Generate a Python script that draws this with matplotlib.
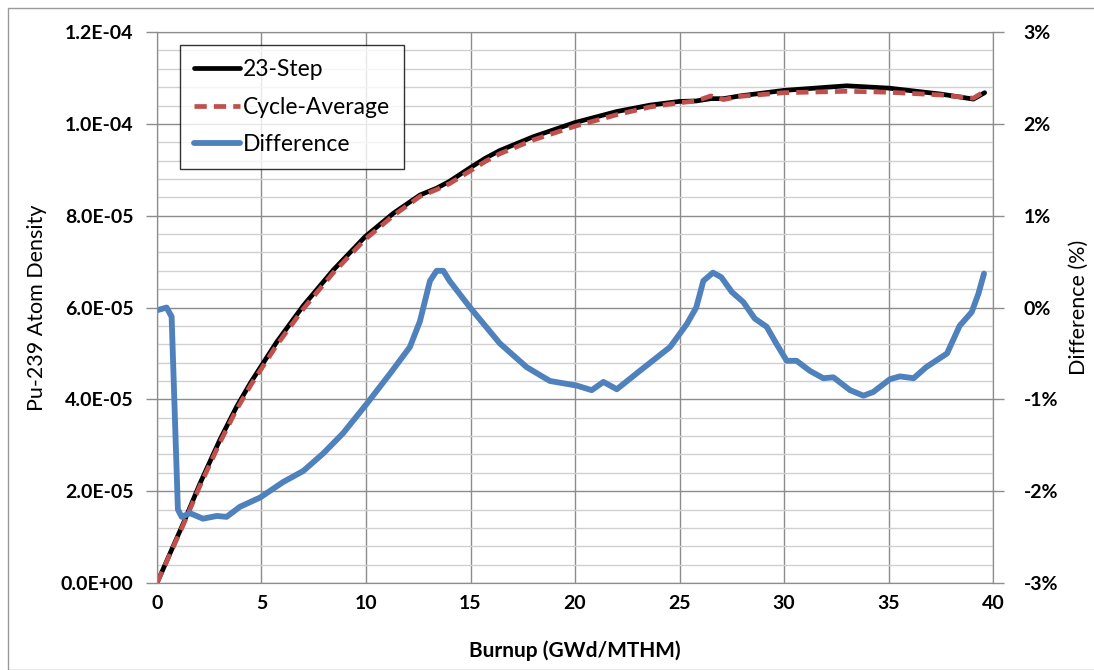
import numpy as np
import matplotlib.pyplot as plt
from matplotlib.ticker import MultipleLocator
from matplotlib.patches import Rectangle

plt.rcParams['font.family'] = ['Lato', 'DejaVu Sans']

# 23-step Pu-239 atom density (x in GWd/MTHM, y in 1e-5 atoms/b-cm)
step_x = [0, 1.26, 2.06, 3.01, 3.81, 4.5, 5.73, 7.0, 8.44, 9.95, 11.3, 12.58, 13.38,
          14.0, 14.5, 15.0, 15.7, 16.4, 18.0, 20.0, 22.0, 23.6, 25.0, 25.8, 26.5, 27.1,
          27.9, 30.0, 33.0, 35.0, 37.5, 39.06, 39.6]
step_y = [0, 1.3, 2.17, 3.12, 3.84, 4.38, 5.25, 6.04, 6.82, 7.54, 8.05, 8.45, 8.6,
          8.75, 8.9, 9.05, 9.25, 9.42, 9.72, 10.03, 10.27, 10.41, 10.49, 10.5, 10.55,
          10.55, 10.61, 10.73, 10.83, 10.78, 10.65, 10.54, 10.68]

# cycle-average Pu-239 atom density
cyc_x = step_x
cyc_y = [0, 1.27, 2.12, 3.06, 3.78, 4.32, 5.18, 5.97, 6.76, 7.48, 8.0, 8.42, 8.57,
         8.7, 8.84, 8.98, 9.18, 9.35, 9.65, 9.95, 10.2, 10.37, 10.46, 10.5, 10.61,
         10.53, 10.6, 10.68, 10.71, 10.69, 10.63, 10.56, 10.71]

# difference (%)
diff_x = [0, 0.46, 0.7, 1.0, 1.18, 1.58, 2.2, 2.86, 3.33, 3.97, 4.93, 6.04, 7.0, 7.95,
          8.9, 10.03, 11.15, 12.1, 12.58, 13.06, 13.38, 13.7, 14.0, 14.98, 16.4, 17.69,
          18.8, 20.08, 20.8, 21.36, 22.0, 23.1, 24.55, 25.35, 25.8, 26.14, 26.6, 27.0,
          27.5, 28.05, 28.6, 29.17, 29.65, 30.13, 30.6, 31.24, 31.88, 32.36, 33.16,
          33.8, 34.27, 35.07, 35.55, 36.2, 36.8, 37.8, 38.4, 38.98, 39.3, 39.57]
diff_y = [-0.03, 0.0, -0.1, -2.2, -2.28, -2.24, -2.3, -2.27, -2.28, -2.17, -2.07, -1.9,
          -1.78, -1.59, -1.37, -1.05, -0.72, -0.43, -0.15, 0.29, 0.4, 0.4, 0.29, 0.0,
          -0.39, -0.65, -0.8, -0.85, -0.9, -0.81, -0.89, -0.69, -0.43, -0.18, 0.0, 0.29,
          0.38, 0.33, 0.17, 0.06, -0.12, -0.21, -0.4, -0.58, -0.58, -0.69, -0.77, -0.76,
          -0.9, -0.96, -0.92, -0.78, -0.75, -0.77, -0.65, -0.5, -0.2, -0.05, 0.15, 0.37]

left_ticks = [0, 2e-5, 4e-5, 6e-5, 8e-5, 1e-4, 1.2e-4]
left_labels = ['0.0E+00', '2.0E-05', '4.0E-05', '6.0E-05', '8.0E-05', '1.0E-04', '1.2E-04']
right_ticks = [-3, -2, -1, 0, 1, 2, 3]
right_labels = ['-3%', '-2%', '-1%', '0%', '1%', '2%', '3%']
x_ticks = [0, 5, 10, 15, 20, 25, 30, 35, 40]

fig = plt.figure(figsize=(10.94, 6.70), dpi=100)
ax = fig.add_axes([0.1435, 0.1299, 0.7642, 0.8222])
ax2 = ax.twinx()

ax.plot(step_x, np.array(step_y) * 1e-5, color='black', lw=3.4, label='23-Step',
        solid_capstyle='round', solid_joinstyle='round')
ax.plot(cyc_x, np.array(cyc_y) * 1e-5, color='#C0504D', lw=3.4, ls=(0, (2.6, 1.5)),
        label='Cycle-Average', dash_joinstyle='round')
ax2.plot(diff_x, diff_y, color='#4F81BD', lw=4.2, label='Difference',
         solid_joinstyle='round', solid_capstyle='round')

ax.set_xlim(0, 40)
ax.set_ylim(0, 1.2e-4)
ax2.set_ylim(-3, 3)
ax.set_xticks(x_ticks, [str(t) for t in x_ticks], fontweight='bold', fontsize=14)
ax.set_yticks(left_ticks, left_labels, fontweight='bold', fontsize=14)
ax.yaxis.set_minor_locator(MultipleLocator(0.4e-5))
ax2.set_yticks(right_ticks, right_labels, fontweight='bold', fontsize=14)

ax.grid(True, which='major', color='#8c8c8c', lw=1.0)
ax.grid(True, which='minor', axis='y', color='#d0d0d0', lw=1.0)
ax.set_axisbelow(True)

for a in (ax, ax2):
    for s in a.spines.values():
        s.set_color('#8c8c8c')
    a.tick_params(which='both', colors='#8c8c8c', labelcolor='black', length=8, width=1)
    a.tick_params(which='minor', length=0)
ax.tick_params(axis='x', length=0, pad=9)
ax.tick_params(axis='y', pad=9)
ax2.tick_params(axis='y', pad=14)

ax.set_xlabel('Burnup (GWd/MTHM)', fontsize=15, fontweight='bold', labelpad=20)
ax.set_ylabel('Pu-239 Atom Density', fontsize=15.5, labelpad=10)
ax2.set_ylabel('Difference (%)', fontsize=15.5, labelpad=8)

h1, l1 = ax.get_legend_handles_labels()
h2, l2 = ax2.get_legend_handles_labels()
leg = ax2.legend(h1 + h2, l1 + l2, loc='upper left', bbox_to_anchor=(0.0275, 0.976),
                 borderaxespad=0, fontsize=16.5, frameon=True, fancybox=False,
                 handlelength=2.0, handletextpad=0.15, borderpad=0.6, labelspacing=0.72)
leg.get_frame().set_edgecolor('black')
leg.get_frame().set_linewidth(1.0)

fig.patches.append(Rectangle((0.007, 0.0), 1.2, 0.988, transform=fig.transFigure,
                             fill=False, edgecolor='#9a9a9a', lw=1.0))

fig.savefig('out.png', dpi=100)
